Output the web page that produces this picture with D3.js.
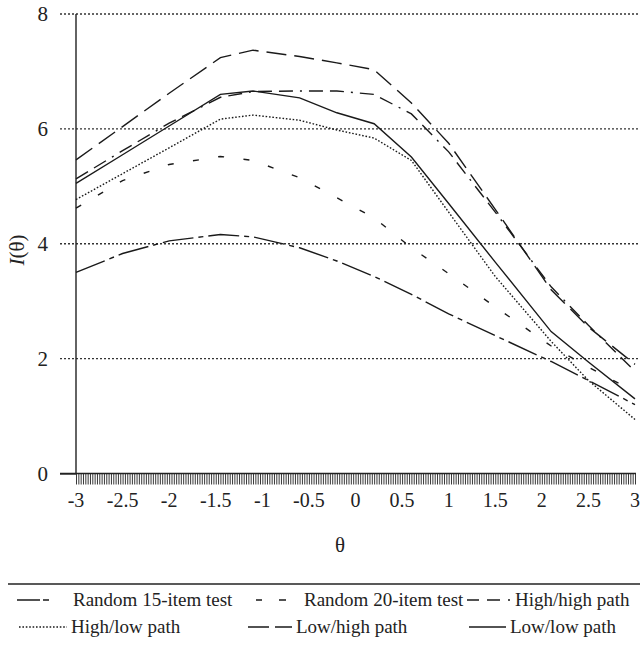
<!DOCTYPE html>
<html>
<head>
<meta charset="utf-8">
<script src="https://cdn.jsdelivr.net/npm/d3@7"></script>
<style>
  body { margin: 0; background: #fff; }
  svg { display: block; }
  text { font-family: "Liberation Serif", "Times New Roman", serif; fill: #222; }
</style>
</head>
<body>
<svg width="640" height="658"></svg>
<script>
// theta values (breakpoints of the curves)
const theta = [-3, -2.5, -2, -1.45, -1.1, -0.6, -0.2, 0.2, 0.6, 1, 1.5, 2.1, 2.5, 3];

const random15 = [3.50, 3.83, 4.05, 4.16, 4.12, 3.93, 3.70, 3.43, 3.12, 2.78, 2.40, 1.95, 1.62, 1.20];
const random20 = [4.62, 5.10, 5.38, 5.52, 5.45, 5.15, 4.80, 4.45, 3.93, 3.48, 2.90, 2.22, 1.85, 1.42];
const highHigh = [5.13, 5.62, 6.10, 6.55, 6.65, 6.66, 6.66, 6.60, 6.26, 5.60, 4.55, 3.25, 2.58, 1.78];
const highLow  = [4.77, 5.22, 5.67, 6.17, 6.24, 6.15, 5.98, 5.84, 5.45, 4.55, 3.43, 2.30, 1.62, 0.94];
const lowHigh  = [5.46, 6.04, 6.62, 7.24, 7.37, 7.26, 7.15, 7.03, 6.45, 5.75, 4.60, 3.20, 2.55, 1.90];
const lowLow   = [5.05, 5.55, 6.05, 6.60, 6.66, 6.54, 6.28, 6.09, 5.51, 4.70, 3.68, 2.47, 1.94, 1.30];

const xTicks = [-3, -2.5, -2, -1.5, -1, -0.5, 0, 0.5, 1, 1.5, 2, 2.5, 3];
const yTicks = [0, 2, 4, 6, 8];

const series = [
    { name: "Random 15-item test", values: random15, dash: "31,5,5,5", legendDash: "23,3,6" },
    { name: "Random 20-item test", values: random20, dash: "6,19.5", legendDash: "6,17,7" },
    { name: "High/high path", values: highHigh, dash: "14,7,14,7,2,7", legendDash: "12,8,13,8,2" },
    { name: "High/low path", values: highLow, dash: "1.6,1.8", legendDash: "1.6,1.8" },
    { name: "Low/high path", values: lowHigh, dash: "20,8", legendDash: "21,6,17" },
    { name: "Low/low path", values: lowLow, dash: null, legendDash: null }
];

const svg = d3.select("svg");
const x = d3.scaleLinear().domain([-3, 3]).range([76, 635]);
const y = d3.scaleLinear().domain([0, 8]).range([473.5, 14]);

// dotted gridlines
svg.append("g")
    .selectAll("line")
    .data(yTicks.filter(d => d > 0))
    .enter()
    .append("line")
    .attr("x1", 60)
    .attr("x2", 640)
    .attr("y1", d => y(d))
    .attr("y2", d => y(d))
    .attr("stroke", "#333")
    .attr("stroke-width", 1.3)
    .attr("stroke-dasharray", "2,2");

// y axis
svg.append("g")
    .attr("transform", "translate(76,0)")
    .call(d3.axisLeft(y).tickValues(yTicks).tickSize(16).tickFormat(d3.format("d")))
    .call(g => g.select(".domain").remove())
    .call(g => g.selectAll(".tick line").attr("stroke", d => d === 0 ? "#222" : "none").attr("stroke-width", 1.3))
    .call(g => g.selectAll(".tick text")
        .attr("x", -28)
        .attr("font-size", "21px")
        .attr("font-family", "Liberation Serif")
        .attr("fill", "#222"));

svg.append("line")
    .attr("x1", 76).attr("x2", 76)
    .attr("y1", y(8)).attr("y2", y(0))
    .attr("stroke", "#222").attr("stroke-width", 1.4);

// x axis with fine minor ticks
const minor = d3.range(0, 241).map(i => -3 + i * 0.025);
svg.append("g")
    .attr("transform", "translate(0," + y(0) + ")")
    .call(d3.axisBottom(x).tickValues(minor).tickSize(11).tickFormat(""))
    .call(g => g.select(".domain").remove())
    .call(g => g.selectAll(".tick line").attr("stroke", "#222").attr("stroke-width", 0.9));

svg.append("line")
    .attr("x1", 60).attr("x2", 636)
    .attr("y1", y(0)).attr("y2", y(0))
    .attr("stroke", "#222").attr("stroke-width", 1.4);

svg.append("g")
    .selectAll("text")
    .data(xTicks)
    .enter()
    .append("text")
    .attr("x", d => x(d))
    .attr("y", 507)
    .attr("text-anchor", "middle")
    .attr("font-size", "20px")
    .text(d => String(d).replace("\u2212", "-"));

// axis titles
svg.append("text")
    .attr("x", 340)
    .attr("y", 552)
    .attr("text-anchor", "middle")
    .attr("font-size", "21px")
    .text("θ");

const yTitle = svg.append("text")
    .attr("transform", "translate(24,250) rotate(-90)")
    .attr("text-anchor", "middle")
    .attr("font-size", "21px");
yTitle.append("tspan").attr("font-style", "italic").text("I");
yTitle.append("tspan").text("(θ)");

// curves
const line = d3.line()
    .x((d, i) => x(theta[i]))
    .y(d => y(d));

svg.append("g")
    .selectAll("path")
    .data(series)
    .enter()
    .append("path")
    .attr("d", d => line(d.values))
    .attr("fill", "none")
    .attr("stroke", "#1a1a1a")
    .attr("stroke-width", 1.4)
    .attr("stroke-dasharray", d => d.dash);

// legend
svg.append("line")
    .attr("x1", 8).attr("x2", 640)
    .attr("y1", 584).attr("y2", 584)
    .attr("stroke", "#222").attr("stroke-width", 1.6);

const legendPos = [
    { x1: 17, x2: 50, tx: 73, ty: 606 },
    { x1: 256, x2: 287, tx: 304, ty: 606 },
    { x1: 467, x2: 510, tx: 515, ty: 606 },
    { x1: 19, x2: 67, tx: 71, ty: 633 },
    { x1: 248, x2: 292, tx: 296, ty: 633 },
    { x1: 469, x2: 506, tx: 510, ty: 633 }
];

const legend = svg.append("g")
    .selectAll("g")
    .data(series)
    .enter()
    .append("g");

legend.append("line")
    .attr("x1", (d, i) => legendPos[i].x1)
    .attr("x2", (d, i) => legendPos[i].x2)
    .attr("y1", (d, i) => legendPos[i].ty - 6)
    .attr("y2", (d, i) => legendPos[i].ty - 6)
    .attr("stroke", "#1a1a1a")
    .attr("stroke-width", 1.4)
    .attr("stroke-dasharray", d => d.legendDash);

legend.append("text")
    .attr("x", (d, i) => legendPos[i].tx)
    .attr("y", (d, i) => legendPos[i].ty)
    .attr("font-size", "19px")
    .text(d => d.name);
</script>
</body>
</html>
